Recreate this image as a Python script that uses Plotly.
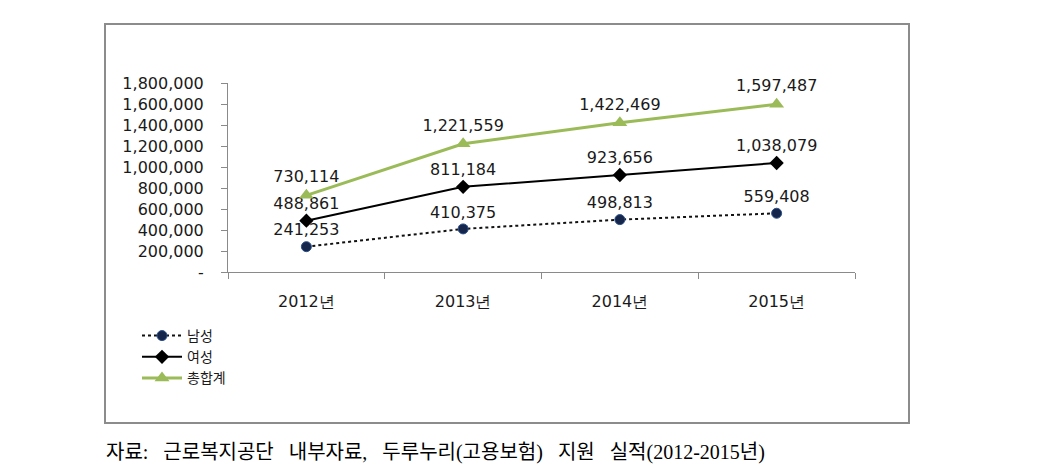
import plotly.graph_objects as go

categories = ["2012년", "2013년", "2014년", "2015년"]
male = [241253, 410375, 498813, 559408]
female = [488861, 811184, 923656, 1038079]
total = [730114, 1221559, 1422469, 1597487]
series_names = ["남성", "여성", "총합계"]
y_tickvals = [0, 200000, 400000, 600000, 800000, 1000000, 1200000, 1400000, 1600000, 1800000]
y_ticktext = ["-", "200,000", "400,000", "600,000", "800,000", "1,000,000", "1,200,000", "1,400,000", "1,600,000", "1,800,000"]
caption_parts = ["자료:", "근로복지공단", "내부자료,", "두루누리(고용보험)", "지원", "실적(2012-2015년)"]
caption = "\u00a0 \u00a0".join(caption_parts)

LBL = dict(family="DejaVu Sans", size=16, color="#1a1a1a")

def fmt(v):
    return f"{v:,}"

fig = go.Figure()
fig.add_trace(go.Scatter(
    x=categories, y=male, name=series_names[0], mode="lines+markers+text",
    line=dict(color="#111111", width=2, dash="dot"),
    marker=dict(symbol="circle", size=10, color="#15264a", line=dict(color="#2a4f8a", width=1)),
    text=[fmt(v) for v in male], textposition="top center", textfont=LBL, cliponaxis=False,
))
fig.add_trace(go.Scatter(
    x=categories, y=female, name=series_names[1], mode="lines+markers+text",
    line=dict(color="#000000", width=2),
    marker=dict(symbol="diamond", size=11, color="#000000"),
    text=[fmt(v) for v in female], textposition="top center", textfont=LBL, cliponaxis=False,
))
fig.add_trace(go.Scatter(
    x=categories, y=total, name=series_names[2], mode="lines+markers+text",
    line=dict(color="#9bbb59", width=3),
    marker=dict(symbol="triangle-up", size=13, color="#9bbb59"),
    text=[fmt(v) for v in total], textposition="top center", textfont=LBL, cliponaxis=False,
))

# page body has an 8px margin; work in screen pixels and convert
OFF = 8
W, H = 1046 - OFF, 474 - OFF
L, R, T, B = 228 - OFF, 855 - OFF, 83 - OFF, 272 - OFF
pw, ph = R - L, B - T

def px(x):
    return (x - OFF - L) / pw

def py(y):
    return (B - (y - OFF)) / ph

fig.update_layout(
    width=W, height=H,
    margin=dict(l=L, r=W - R, t=T, b=H - B, autoexpand=False),
    plot_bgcolor="white", paper_bgcolor="white",
    showlegend=True,
    legend=dict(x=px(137), y=py(320), xanchor="left", yanchor="top",
                font=dict(family="Noto Sans CJK KR", size=14, color="#1a1a1a"),
                bgcolor="rgba(0,0,0,0)", tracegroupgap=0, itemwidth=40),
    xaxis=dict(
        type="category", range=[-0.5, len(categories) - 0.5],
        showgrid=False, showline=True, linecolor="#8a8a8a", linewidth=1,
        ticks="outside", tickson="boundaries", ticklen=6, tickcolor="#8a8a8a",
        tickfont=dict(family="DejaVu Sans", size=16, color="#1a1a1a"),
        ticklabelstandoff=15,
    ),
    yaxis=dict(
        range=[0, 1800000], showgrid=False, showline=True, linecolor="#8a8a8a", linewidth=1,
        ticks="outside", ticklen=6, tickcolor="#8a8a8a",
        tickvals=y_tickvals, ticktext=y_ticktext, zeroline=False,
        tickfont=dict(family="DejaVu Sans", size=16, color="#1a1a1a"),
        ticklabelstandoff=14,
    ),
    shapes=[dict(type="rect", xref="paper", yref="paper",
                 x0=px(105), x1=px(909), y0=py(423), y1=py(24),
                 line=dict(color="#8c8c8c", width=2), fillcolor="rgba(0,0,0,0)", layer="below")],
    annotations=[dict(text=caption, xref="paper", yref="paper", x=px(104), y=py(452),
                      xanchor="left", yanchor="middle", showarrow=False,
                      font=dict(family="Liberation Serif, Noto Sans CJK KR", size=20, color="#000000"))],
)

fig.write_html("out.html")
